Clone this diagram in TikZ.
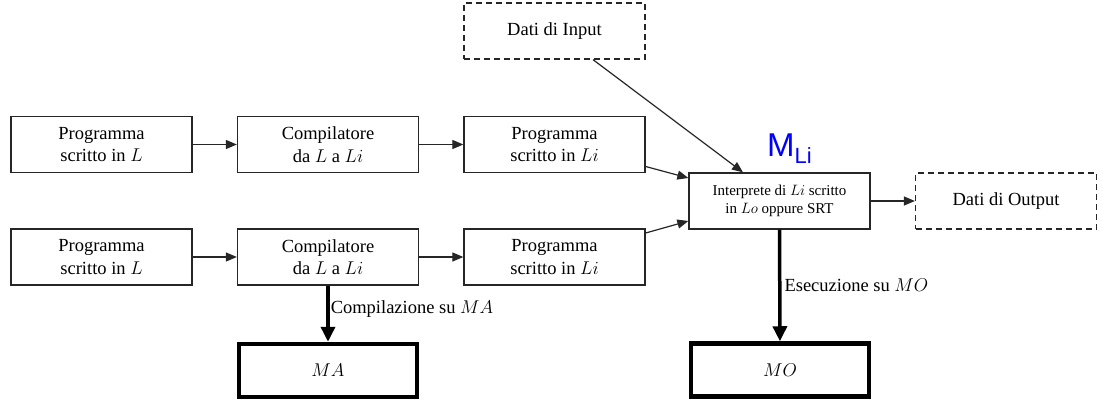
\RequirePackage{fix-cm}
\documentclass[tikz,border=0pt]{standalone}
\usepackage{fontspec}
\setmainfont{Liberation Serif}
\newfontfamily\arialf{Liberation Sans}
\usetikzlibrary{arrows.meta}
\begin{document}
\begin{tikzpicture}[x=1pt,y=-1pt,
  box/.style={draw=black!85,line width=1.3pt,minimum width=181pt,minimum height=56pt,inner sep=0pt,align=center,font=\fontsize{18.5}{22.5}\selectfont},
  dbox/.style={box,dashed,dash pattern=on 6pt off 4pt},
  hbox/.style={box,draw=black,line width=4.5pt,minimum width=178pt,minimum height=53pt},
  arr/.style={draw=black!85,line width=1.2pt,-{Triangle[length=11pt,width=9pt]}},
  harr/.style={draw=black,line width=3.5pt,-{Triangle[length=15pt,width=14pt]}},
  lab/.style={font=\fontsize{18.5}{22.5}\selectfont,inner sep=1pt}
]
\useasboundingbox (0,0) rectangle (1107,406);
\node[box] (p1) at (101.5,144.5) {Programma\\scritto in $L$};
\node[box] (c1) at (328,144.5) {Compilatore\\da $L$ a $Li$};
\node[box] (q1) at (554.5,144.5) {Programma\\scritto in $Li$};
\node[box] (p2) at (101.5,257) {Programma\\scritto in $L$};
\node[box] (c2) at (328,257) {Compilatore\\da $L$ a $Li$};
\node[box] (q2) at (554.5,257) {Programma\\scritto in $Li$};
\node[dbox] (in) at (554.5,31) {Dati di Input};
\node[box,font=\fontsize{15}{17.7}\selectfont] (ip) at (779.5,201) {Interprete di $Li$ scritto\\in $Lo$ oppure SRT};
\node[dbox] (out) at (1006,201) {Dati di Output};
\node[hbox] (ma) at (328,370.5) {$MA$};
\node[hbox] (mo) at (780,370) {$MO$};
\node[anchor=base west,inner sep=0pt,text=blue,font=\arialf\fontsize{33}{33}\selectfont] (mli) at (767,157) {M\raisebox{-7pt}{\fontsize{22}{22}\selectfont Li}};
\draw[arr] (p1) -- (c1);
\draw[arr] (c1) -- (q1);
\draw[arr] (p2) -- (c2);
\draw[arr] (c2) -- (q2);
\draw[arr] ([yshift=-22pt]q1.east) -- ([yshift=23pt]ip.west);
\draw[arr] ([yshift=24pt]q2.east) -- ([yshift=-20pt]ip.west);
\draw[arr] ([xshift=38.5pt]in.south) -- ([xshift=-36.5pt]ip.north);
\draw[arr] (ip) -- (out);
\draw[harr] (c2) -- (ma) node[lab,pos=0.42,right] {Compilazione su $MA$};
\draw[harr] (ip) -- (mo) node[lab,midway,right,xshift=2pt] {Esecuzione su $MO$};
\end{tikzpicture}
\end{document}
